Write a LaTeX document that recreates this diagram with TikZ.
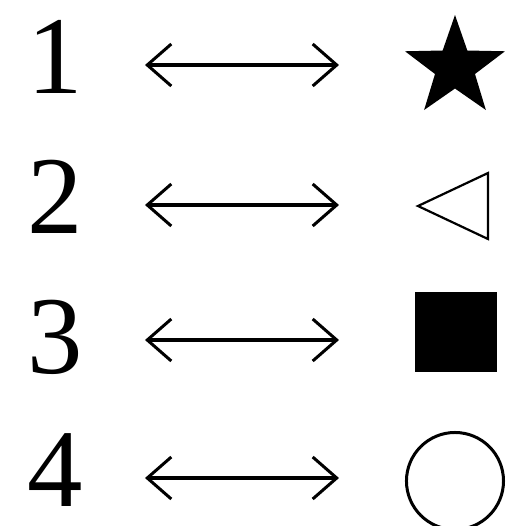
\documentclass[tikz,border=0pt]{standalone}
\usepackage{fontspec}
\setmainfont{Liberation Serif}
\usepackage{tikz}
\usetikzlibrary{arrows.meta,shapes.geometric}

\begin{document}
\begin{tikzpicture}[x=0.01cm, y=-0.01cm,
    every node/.style={inner sep=0pt},
    digit/.style={anchor=base, font=\fontsize{31.5}{36}\selectfont},
    dblarrow/.style={{Straight Barb[length=0.24cm, width=0.42cm, line width=0.03cm]}-{Straight Barb[length=0.24cm, width=0.42cm, line width=0.03cm]}, line width=0.033cm}]
        \useasboundingbox (0,0) rectangle (512,526);

        \node[digit] (n1) at (55,93) {1};
        \node[digit] (n2) at (55,233) {2};
        \node[digit] (n3) at (55,373) {3};
        \node[digit] (n4) at (55,506) {4};

        \node[star, star points=5, star point ratio=2.5, fill=black, minimum size=1.05cm] (s1) at (455,67.5) {};
        \coordinate (s2) at (466,206);
        \draw[line width=0.022cm, line join=miter] (418,206) -- (488,173) -- (488,239) -- cycle;
        \node[fill=black, minimum width=0.82cm, minimum height=0.80cm] (s3) at (456,332) {};
        \node[circle, draw, line width=0.03cm, minimum size=0.97cm] (s4) at (455,481) {};

        \coordinate (l1) at (145,65);
        \coordinate (r1) at (339,65);
        \coordinate (l2) at (145,205);
        \coordinate (r2) at (339,205);
        \coordinate (l3) at (145,340);
        \coordinate (r3) at (339,340);
        \coordinate (l4) at (145,478);
        \coordinate (r4) at (339,478);

        \draw[dblarrow] (l1) -- (r1);
        \draw[dblarrow] (l2) -- (r2);
        \draw[dblarrow] (l3) -- (r3);
        \draw[dblarrow] (l4) -- (r4);
    \end{tikzpicture}
\end{document}
